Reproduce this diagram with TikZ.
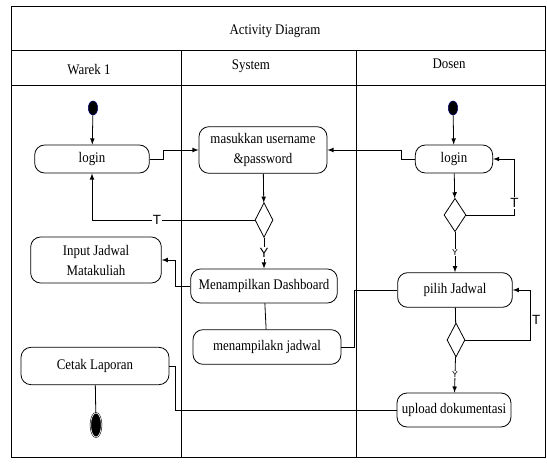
\documentclass[tikz,border=0pt]{standalone}
\usepackage{fontspec}
\setmainfont{Liberation Serif}[FakeStretch=0.88]
\newfontfamily\lblfont{Liberation Sans}
\usetikzlibrary{arrows,shapes.geometric,positioning}

\begin{document}
\begin{tikzpicture}
    [x=0.75pt,y=-0.75pt,>=latex,
    font=\fontsize{11}{15}\selectfont,
    activity/.style={draw,rounded corners=7.5pt,semithick,align=center,inner sep=1pt},
    decision/.style={draw,diamond,semithick,inner sep=0pt},
    initial/.style={ellipse,fill=black,draw=blue!45!black,inner sep=0pt,
        minimum width=7pt,minimum height=10.5pt},
    final/.style={ellipse,fill=black,draw=black,double=white,double distance=0.5pt,
        inner sep=0pt,minimum width=8pt,minimum height=18pt},
    guard/.style={fill=white,inner sep=1pt,font=\lblfont\fontsize{10}{10}\selectfont},
    small guard/.style={fill=white,inner sep=0.5pt,font=\lblfont\fontsize{6.5}{6.5}\selectfont},
    post/.style={->,shorten >=0pt,semithick},
    flow/.style={semithick}]
    \useasboundingbox (0,0) rectangle (547,464);
    % swimlanes
    \draw[semithick] (11,6) rectangle (545,457);
    \draw[semithick] (11,50) -- (545,50);
    \draw[semithick] (11,85) -- (545,85);
    \draw[semithick] (181,50) -- (181,457);
    \draw[semithick] (356,50) -- (356,457);
    \node (title) at (275,31) {Activity Diagram};
    \node (lane warek) at (89,70) {Warek 1};
    \node (lane system) at (251,66) {System};
    \node (lane dosen) at (449,64) {Dosen};
    % Warek 1
    \node[initial] (start warek) at (93,108) {};
    \node[activity,minimum width=86pt,minimum height=21pt] (login warek) at (92,159) {login};
    \node[activity,minimum width=98pt,minimum height=34.5pt] (input jadwal) at (96,260) {Input Jadwal\\Matakuliah};
    \node[activity,minimum width=111pt,minimum height=28pt] (cetak laporan) at (95,366) {Cetak Laporan};
    \node[final] (end warek) at (96,425) {};
    % System
    \node[activity,minimum width=96pt,minimum height=35pt] (masukkan) at (263,150) {masukkan username\\\&password};
    \node[decision,minimum width=13.5pt,minimum height=26pt] (cek login) at (264,220) {};
    \node[activity,minimum width=110pt,minimum height=25.5pt] (dashboard) at (264,286) {Menampilkan Dashboard};
    \node[activity,minimum width=111pt,minimum height=26pt] (tampil jadwal) at (267,347) {menampilakn jadwal};
    % Dosen
    \node[initial] (start dosen) at (453,108) {};
    \node[activity,minimum width=58pt,minimum height=21pt] (login dosen) at (454,159) {login};
    \node[decision,minimum width=16.5pt,minimum height=25pt] (cek dosen) at (455,215) {};
    \node[activity,minimum width=86pt,minimum height=26pt] (pilih jadwal) at (455,290) {pilih Jadwal};
    \node[decision,minimum width=13.5pt,minimum height=25.5pt] (cek jadwal) at (456,340) {};
    \node[activity,minimum width=85.5pt,minimum height=25.5pt] (upload) at (454,410) {upload dokumentasi};
    % flows
    \draw[post] (start warek) -- (login warek);
    \draw[post] (login warek.east) -- ++(14,0) |- (masukkan.west);
    \draw[post] (start dosen) -- (login dosen);
    \draw[post] (login dosen.west) -- ++(-14,0) |- (masukkan.east);
    \draw[post] (masukkan) -- (cek login);
    \draw[post] (cek login.west) -| node[guard,pos=0.3] {T} (login warek.south);
    \draw[post] (cek login) -- node[guard] {Y} (dashboard);
    \draw[post] (dashboard.west) -- ++(-15,0) |- (input jadwal.east);
    \draw[flow] (dashboard) -- (tampil jadwal);
    \draw[flow] (tampil jadwal.east) -- ++(13,0) |- (pilih jadwal.west);
    \draw[post] (login dosen) -- (cek dosen);
    \draw[post] (cek dosen.east) -- ++(48,0) |- node[guard,pos=0.11] {T} (login dosen.east);
    \draw[post] (cek dosen) -- node[small guard] {Y} (pilih jadwal);
    \draw[flow] (pilih jadwal) -- (cek jadwal);
    \draw[post] (cek jadwal.east) -- ++(65,0) |- node[guard,pos=0.2,right,fill=none] {T} (pilih jadwal.east);
    \draw[post] (cek jadwal) -- node[small guard] {Y} (upload);
    \draw[flow] (upload.west) -- ++(-221,0) |- (cetak laporan.east);
    \draw[flow] (cetak laporan) -- (end warek);
\end{tikzpicture}
\end{document}
